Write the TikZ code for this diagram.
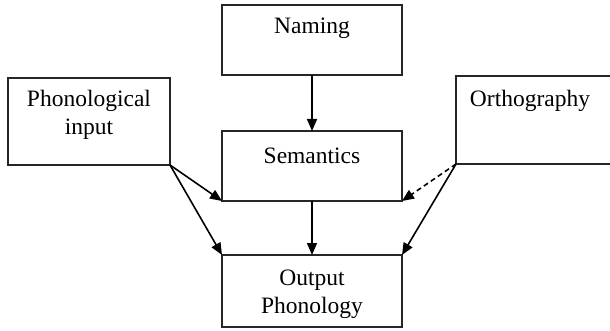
\documentclass[tikz,border=0pt]{standalone}
\usepackage{fontspec}
\setmainfont{Liberation Serif}
\usetikzlibrary{arrows.meta}
\begin{document}
\begin{tikzpicture}[x=1pt,y=-1pt,
  box/.style={draw=black!85,line width=1.6pt},
  lbl/.style={font=\fontsize{23.5}{28}\selectfont,align=center,inner sep=0pt},
  conn/.style={draw=black,line width=1.6pt,-{Triangle[length=12pt,width=10pt]}}]
\useasboundingbox (0,0) rectangle (610,331);
\fill[white] (0,0) rectangle (610,331);
% boxes
\draw[box] (222,5) rectangle (402,75);
\draw[box] (8,78) rectangle (170,165);
\draw[box] (222,131) rectangle (402,201);
\draw[box] (456,76) rectangle (616,164);
\draw[box] (222,255) rectangle (402,327);
% named anchor coordinates
\coordinate (namS) at (312,75);
\coordinate (semN) at (312,131);
\coordinate (semS) at (312,201);
\coordinate (semSW) at (222,201);
\coordinate (semSE) at (402,201);
\coordinate (outN) at (312,255);
\coordinate (outNW) at (222,255);
\coordinate (outNE) at (402,255);
\coordinate (phonSE) at (170,165);
\coordinate (orthSW) at (456,164);
% labels
\node[lbl] (naming) at (312,28) {Naming};
\node[lbl] (phon) at (89,115) {Phonological\\input};
\node[lbl] (sem) at (312,156) {Semantics};
\node[lbl] (orth) at (530,101) {Orthography};
\node[lbl] (outp) at (312,294) {Output\\Phonology};
% connectors
\draw[conn] (namS) -- (semN);
\draw[conn] (semS) -- (outN);
\draw[conn] (phonSE) -- (semSW);
\draw[conn] (phonSE) -- (outNW);
\draw[conn,dashed,dash pattern=on 5pt off 3.5pt] (orthSW) -- (semSE);
\draw[conn] (orthSW) -- (outNE);
\end{tikzpicture}
\end{document}
